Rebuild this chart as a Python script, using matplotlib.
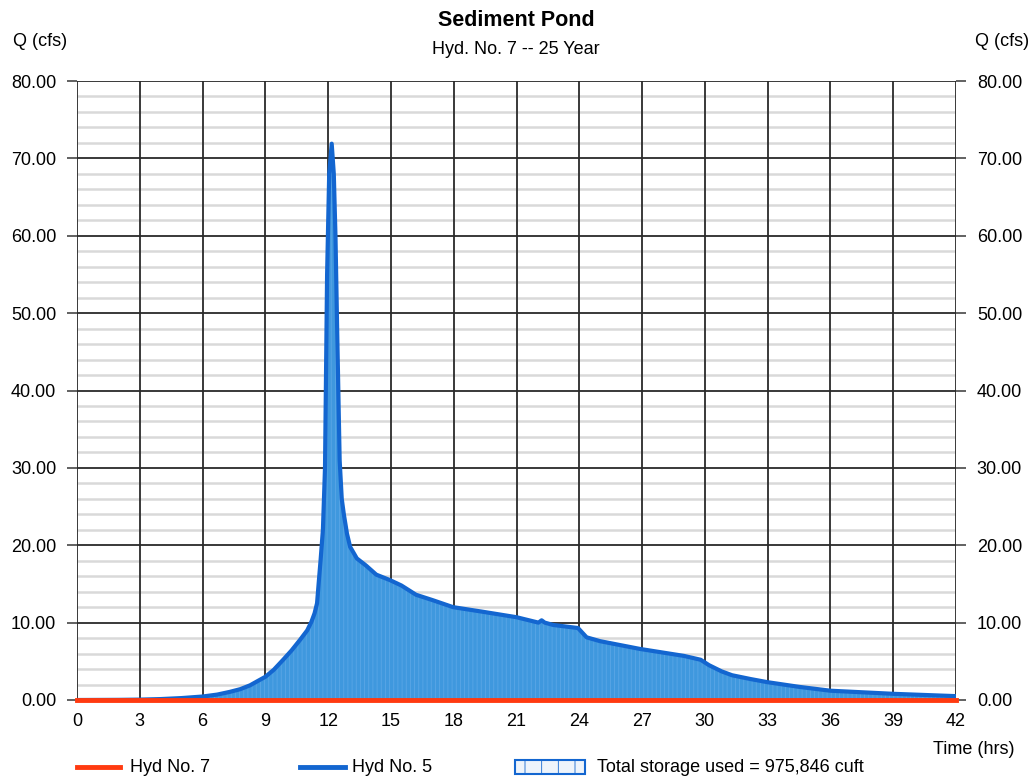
import matplotlib
matplotlib.use("Agg")
import matplotlib.pyplot as plt
from matplotlib.lines import Line2D
from matplotlib.patches import Rectangle
import numpy as np

plt.rcParams['font.family'] = ['Liberation Sans', 'DejaVu Sans']

title = "Sediment Pond"
subtitle = "Hyd. No. 7 -- 25 Year"
y_label = "Q (cfs)"
x_label = "Time (hrs)"
x_ticks = list(range(0, 43, 3))
y_ticks = [0, 10, 20, 30, 40, 50, 60, 70, 80]

# Hyd No. 5 (inflow)
hyd5_t = [0, 2, 3, 4, 5, 6, 6.7, 7.3, 7.8, 8.27, 8.6, 9.0, 9.4, 9.85, 10.25, 10.65,
          11.0, 11.2, 11.35, 11.47, 11.56, 11.64, 11.75, 11.85, 11.95, 12.05, 12.17,
          12.27, 12.35, 12.43, 12.55, 12.65, 12.75, 12.9, 13.05, 13.37, 13.8,
          14.3, 14.95, 15.5, 16.2, 17.0, 17.97, 19.4, 21.0, 22.05, 22.2, 22.35,
          22.75, 23.94, 24.35, 25.0, 26.9, 29.0, 29.8, 30.2, 30.8, 31.3, 32.2,
          33.0, 34.5, 36.0, 37.5, 39.0, 40.5, 42.0]
hyd5_q = [0.0, 0.02, 0.05, 0.12, 0.25, 0.45, 0.7, 1.05, 1.4, 1.9, 2.4, 3.0, 3.9,
          5.2, 6.4, 7.75, 9.0, 10.1, 11.2, 12.5, 15.5, 18.1, 22.0, 30.0, 55.0,
          68.0, 71.9, 68.0, 60.0, 48.0, 31.0, 26.0, 24.0, 21.5, 19.8, 18.3, 17.4,
          16.2, 15.5, 14.8, 13.6, 12.9, 12.0, 11.4, 10.7, 10.0, 10.3, 10.0, 9.7,
          9.3, 8.1, 7.6, 6.6, 5.7, 5.2, 4.5, 3.7, 3.2, 2.7, 2.3, 1.7, 1.2, 1.0,
          0.8, 0.65, 0.5]

# Hyd No. 7 (outflow)
hyd7_t = [0, 42]
hyd7_q = [0.0, 0.0]

storage_label = "Total storage used = 975,846 cuft"

W, H = 1035, 778
fig = plt.figure(figsize=(W / 100, H / 100), dpi=100)
ax = fig.add_axes([77 / W, 1 - 700 / H, (956 - 77) / W, (700 - 81) / H])

ax.set_xlim(0, 42)
ax.set_ylim(0, 80)

plt.rcParams['hatch.linewidth'] = 0.6
ax.fill_between(hyd5_t, hyd5_q, 0, facecolor='#3f98de', edgecolor='#5aa6e6',
                hatch='||||', linewidth=0, zorder=2)
ax.plot(hyd5_t, hyd5_q, color='#1366d0', lw=3.0, solid_joinstyle='round',
        solid_capstyle='round', zorder=4)
ax.plot(hyd7_t, hyd7_q, color='#ff3a10', lw=3.5, zorder=5, clip_on=False)

# grid
ax.set_axisbelow(True)
ax.set_yticks(y_ticks)
ax.set_yticks(np.arange(0, 81, 2), minor=True)
ax.set_xticks(x_ticks)
ax.grid(which='minor', axis='y', color='#d9d9d9', lw=1.8)
ax.grid(which='major', axis='y', color='#2a2a2a', lw=1.3)
ax.vlines(x_ticks, 0, 80, colors='#2a2a2a', lw=1.3, zorder=1)
for s in ax.spines.values():
    s.set_visible(False)

ax.tick_params(axis='y', which='major', direction='out', length=7, width=1.3,
               color='#555555', left=True, right=True, labelleft=True,
               labelright=True, labelsize=13, pad=8)
ax.tick_params(axis='y', which='minor', length=0)
ax.tick_params(axis='x', which='major', length=0, labelsize=13, pad=9)
ax.set_yticklabels([f"{v:.2f}" for v in y_ticks])
ax.set_xticklabels([str(v) for v in x_ticks])

fig.text(516 / W, 1 - 20 / H, title, ha='center', va='center', fontsize=15.5,
         fontweight='bold')
fig.text(516 / W, 1 - 50 / H, subtitle, ha='center', va='center', fontsize=13)
fig.text(40 / W, 1 - 42 / H, y_label, ha='center', va='center', fontsize=13)
fig.text(1002 / W, 1 - 42 / H, y_label, ha='center', va='center', fontsize=13)
fig.text(974 / W, 1 - 750 / H, x_label, ha='center', va='center', fontsize=13)

# legend
ly = 1 - 767 / H
fig.add_artist(Line2D([77 / W, 120 / W], [ly, ly], color='#ff3a10', lw=3.5))
fig.text(130 / W, ly, "Hyd No. 7", ha='left', va='center', fontsize=13)
fig.add_artist(Line2D([300 / W, 345 / W], [ly, ly], color='#1366d0', lw=3.5))
fig.text(352 / W, ly, "Hyd No. 5", ha='left', va='center', fontsize=13)
fig.add_artist(Rectangle((515 / W, ly - 7 / H), 70 / W, 14 / H, facecolor='#eef4fb',
                         edgecolor='#1366d0', hatch='|', lw=1.5,
                         transform=fig.transFigure))
fig.text(597 / W, ly, storage_label, ha='left', va='center', fontsize=13)

fig.savefig("out.png", dpi=100)
